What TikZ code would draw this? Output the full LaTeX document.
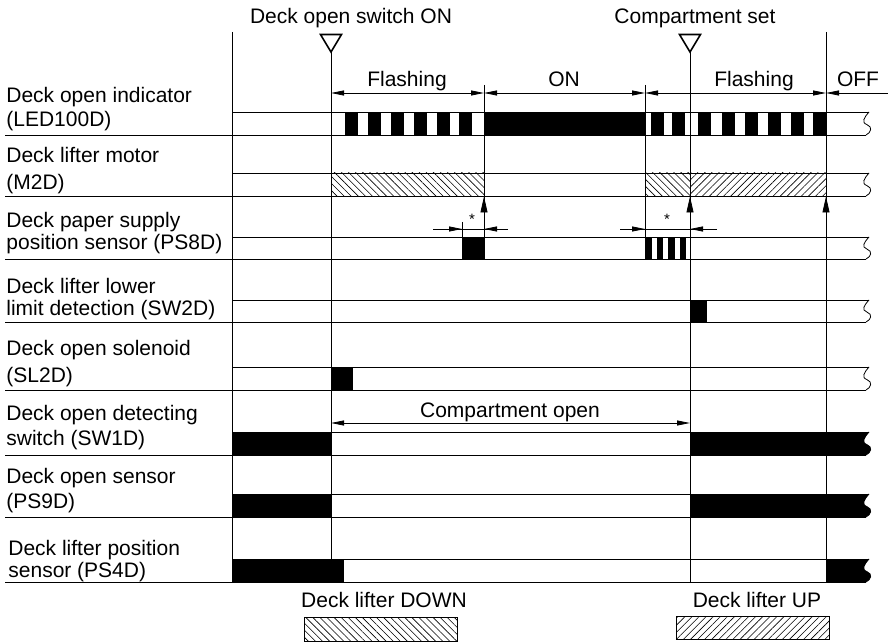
\documentclass[tikz,border=0pt]{standalone}
\usepackage{fontspec}
\setmainfont{Liberation Sans}
\usetikzlibrary{arrows.meta,patterns.meta}
\newcommand\wv[2]{(869,#1) .. controls (864,{#1+0.25*(#2-#1)}) and (861,{#1+0.45*(#2-#1)}) .. (867,{#1+0.55*(#2-#1)}) .. controls (873,{#1+0.65*(#2-#1)}) and (871,{#1+0.9*(#2-#1)}) .. (866,#2)}
\begin{document}
\begin{tikzpicture}[x=1pt,y=-1pt,line width=0.8pt,
  lbl/.style={anchor=base west,inner sep=0pt,font=\fontsize{21}{24}\selectfont},
  ttl/.style={anchor=base,inner sep=0pt,font=\fontsize{21}{24}\selectfont},
  tipr/.style={-{Triangle[length=13pt,width=5pt]}},
  dbl/.style={{Triangle[length=13pt,width=5pt]}-{Triangle[length=13pt,width=5pt]}},
  uptip/.style={-{Triangle[length=16pt,width=7pt]}},
  hatchdown/.style={pattern={Lines[angle=-45,distance=5pt,line width=0.6pt]}},
  hatchup/.style={pattern={Lines[angle=45,distance=5pt,line width=0.6pt]}},
  marker/.style={line width=1.6pt,line join=miter}]
\useasboundingbox (0,0) rectangle (888,644);
% time coordinates
\coordinate (t0) at (232,0);
\coordinate (t1) at (331,0);
\coordinate (t2) at (484,0);
\coordinate (t3) at (645,0);
\coordinate (t4) at (690,0);
\coordinate (t5) at (826,0);

% ---------- signal rows: outlines ----------
\foreach \T/\B in {112/135,173/196,237/259,300/322,367/390,432/455,494/517,559/582}{
  \draw (232,\T) -- (869,\T);
  \draw (5,\B) -- (866,\B);
  \draw \wv{\T}{\B};
}

% ---------- LED100D ----------
\foreach \x in {345,368,391,414,437,459} \fill (\x,112) rectangle ++(13,23);
\fill (484,112) rectangle (645,135);
\foreach \x in {651,672,698,722,745,768,791,813} \fill (\x,112) rectangle ++(13,23);

% ---------- M2D ----------
\path[hatchdown] (331,173) rectangle (484,196);
\path[hatchdown] (645,173) rectangle (690,196);
\path[hatchup] (690,173) rectangle (826,196);
\draw (331,173) -- (484,173) (331,196) -- (484,196) (645,173) -- (826,173) (645,196) -- (826,196);

% ---------- PS8D ----------
\fill (462,237) rectangle (484,259);
\foreach \x in {645,656.5,668,679.5} \fill (\x,237) rectangle ++(6.5,22);

% ---------- SW2D ----------
\fill (690,300) rectangle (707,322);

% ---------- SL2D ----------
\fill (331,367) rectangle (353,390);

% ---------- SW1D ----------
\fill (232,432) rectangle (331,455);
\fill (690,432) -- \wv{432}{455} -- (690,455) -- cycle;

% ---------- PS9D ----------
\fill (232,494) rectangle (331,517);
\fill (690,494) -- \wv{494}{517} -- (690,517) -- cycle;

% ---------- PS4D ----------
\fill (232,559) rectangle (344,582);
\fill (826,559) -- \wv{559}{582} -- (826,582) -- cycle;

% ---------- vertical time lines ----------
\draw (232,32) -- (232,582);
\draw (331,52) -- (331,582);
\draw (690,52) -- (690,582);
\draw (826,32) -- (826,582);
\draw (484,85) -- (484,259);
\draw (645,85) -- (645,259);

% markers
\draw[marker] (320.5,34.5) -- (341.5,34.5) -- (331,52) -- cycle;
\draw[marker] (679.5,34.5) -- (700.5,34.5) -- (690,52) -- cycle;
\node[ttl] (swon) at (351,24) {Deck open switch ON};
\node[ttl] (cset) at (695,24) {Compartment set};

% ---------- top interval arrows ----------
\coordinate (a1) at (331,93);
\coordinate (a2) at (484,93);
\coordinate (a3) at (645,93);
\coordinate (a4) at (826,93);
\coordinate (a5) at (888,93);
\draw[dbl] (a1) -- (a2);
\draw[dbl] (a2) -- (a3);
\draw[dbl] (a3) -- (a4);
\draw[tipr] (a5) -- (a4);
\node[ttl] (fl1) at (407,87) {Flashing};
\node[ttl] (on1) at (564,87) {ON};
\node[ttl] (fl2) at (754,87) {Flashing};
\node[ttl] (off) at (858,87) {OFF};

% ---------- * tolerance arrows ----------
\draw (433,229) -- (508,229);
\draw[tipr] (433,229) -- (462,229);
\draw[tipr] (508,229) -- (484,229);
\draw (462,222) -- (462,237);
\node[inner sep=0pt,font=\fontsize{15}{15}\selectfont] (st1) at (472,219) {*};
\draw (620,229) -- (717,229);
\draw[tipr] (620,229) -- (645,229);
\draw[tipr] (717,229) -- (690,229);
\node[inner sep=0pt,font=\fontsize{15}{15}\selectfont] (st2) at (667,219) {*};

% up arrows to motor row
\draw[uptip] (484,226) -- (484,196.5);
\draw[uptip] (690,226) -- (690,196.5);
\draw[uptip] (826,226) -- (826,196.5);

% ---------- compartment open ----------
\draw[dbl] (331,423) -- (690,423);
\node[ttl] (copen) at (510,417) {Compartment open};

% ---------- row labels ----------
\node[lbl] (l1a) at (6,103) {Deck open indicator};
\node[lbl] (l1b) at (6,127) {(LED100D)};
\node[lbl] (l2a) at (6,163) {Deck lifter motor};
\node[lbl] (l2b) at (6,190) {(M2D)};
\node[lbl] (l3a) at (6,228) {Deck paper supply};
\node[lbl] (l3b) at (6,250) {position sensor (PS8D)};
\node[lbl] (l4a) at (6,293) {Deck lifter lower};
\node[lbl] (l4b) at (6,315) {limit detection (SW2D)};
\node[lbl] (l5a) at (6,355) {Deck open solenoid};
\node[lbl] (l5b) at (6,382) {(SL2D)};
\node[lbl] (l6a) at (6,420) {Deck open detecting};
\node[lbl] (l6b) at (6,445) {switch (SW1D)};
\node[lbl] (l7a) at (6,483) {Deck open sensor};
\node[lbl] (l7b) at (6,508) {(PS9D)};
\node[lbl] (l8a) at (8,555) {Deck lifter position};
\node[lbl] (l8b) at (8,577) {sensor (PS4D)};

% ---------- legend ----------
\node[ttl] (ldown) at (384,607) {Deck lifter DOWN};
\draw[hatchdown] (304,617) rectangle (457,641);
\node[ttl] (lup) at (757,607) {Deck lifter UP};
\draw[hatchup] (676,616) rectangle (829,639);
\end{tikzpicture}
\end{document}
